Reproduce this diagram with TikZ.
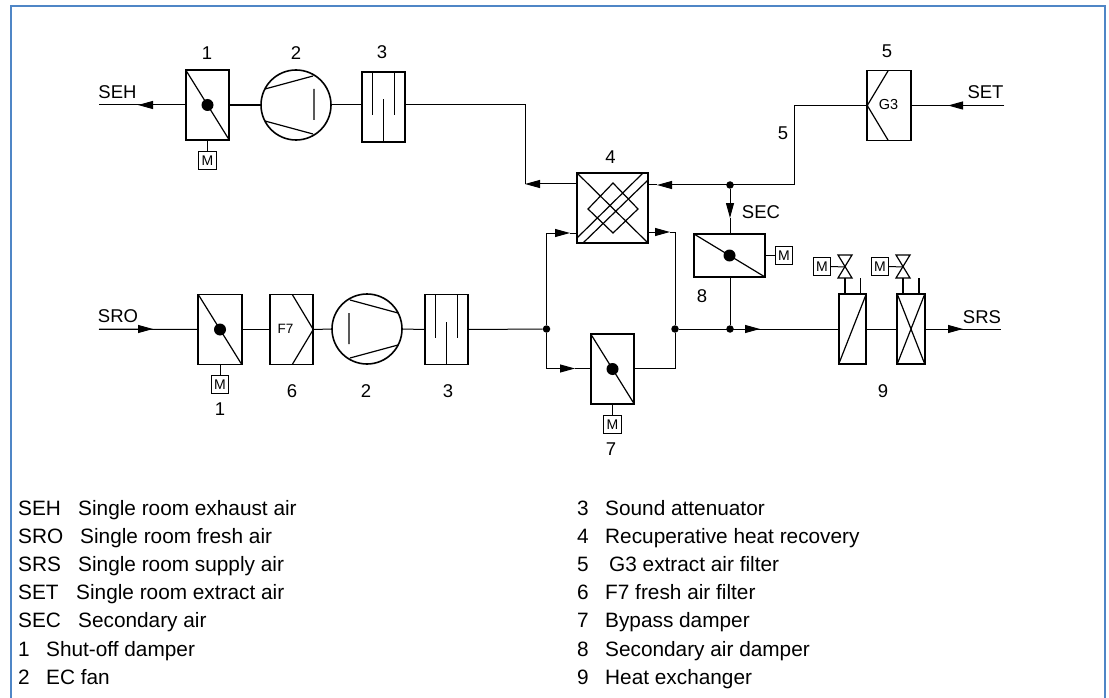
\documentclass[tikz,border=0pt]{standalone}
\usepackage{fontspec}
\setmainfont{Liberation Sans}
\usetikzlibrary{arrows.meta}
\definecolor{framblue}{RGB}{79,134,198}
\tikzset{
  >={Triangle[length=15pt,width=8pt]},
  box/.style={draw, line width=1.6pt, inner sep=0pt, outer sep=0pt},
  damperbox/.style={box, minimum width=43.5pt, minimum height=70pt},
  hxbox/.style={box, minimum width=71pt, minimum height=70pt},
  flatbox/.style={box, minimum width=71pt, minimum height=43pt},
  coilbox/.style={box, minimum width=27.5pt, minimum height=70pt},
  fanbody/.style={box, circle, minimum size=70pt},
  mbox/.style={draw, line width=.9pt, inner sep=0pt, outer sep=0pt, minimum size=17.5pt, font=\fontsize{14}{14}\selectfont},
  dot/.style={circle, fill, inner sep=0pt, minimum size=7.5pt},
  hub/.style={circle, fill, inner sep=0pt, minimum size=12pt},
  tag/.style={inner sep=0pt, font=\fontsize{18.5}{18}\selectfont},
  legend/.style={inner sep=0pt, anchor=base west, font=\fontsize{20.8}{21}\selectfont},
  pipe/.style={line width=1pt}
}
\newcommand{\fanblades}[2]{%
  \draw[line width=1.2pt, shift={(#1)}, xscale=#2] (-31,-16) -- (17,-29) (-31,16) -- (17,29) (18,-16) -- (18,15);}
\begin{document}
\begin{tikzpicture}[x=1pt, y=-1pt]
  \useasboundingbox (0,0) rectangle (1109,698);
  \draw[framblue, line width=2pt] (10.5,698) -- (10.5,6.5) -- (1104.5,6.5) -- (1104.5,698);

  % upper row
  \node (D1) [damperbox] at (207.5,105) {};
  \node (F1) [fanbody] at (296,105) {};
  \node (A1) [damperbox] at (383.5,107) {};
  \node (HX) [hxbox] at (612.5,208) {};
  \node (G3) [damperbox] at (889,105.5) {};
  \node (D8) [flatbox] at (729.5,255.5) {};
  % lower row
  \node (D2) [damperbox] at (220,329.5) {};
  \node (F7) [damperbox] at (291.5,329.5) {};
  \node (F2) [fanbody] at (367,329) {};
  \node (A2) [damperbox] at (446.5,329.5) {};
  \node (D7) [damperbox] at (612.5,369) {};
  \node (C1) [coilbox] at (852.5,329) {};
  \node (C2) [coilbox] at (911,329) {};

  % insides
  \foreach \d in {D1,D2,D7,D8} {
    \draw[line width=1.2pt] (\d.north west) -- (\d.south east);
    \node (hub\d) [hub] at (\d) {};
  }
  \foreach \a in {A1,A2} {
    \draw[line width=1.2pt] ([xshift=11pt]\a.north west) -- ++(0,43)
      ([xshift=-11pt]\a.north east) -- ++(0,43)
      (\a.south) -- ++(0,-43);
  }
  \fanblades{F1}{1}
  \fanblades{F2}{-1}
  \draw[line width=1.2pt] (G3.west) -- ([xshift=21pt]G3.north west) (G3.west) -- ([xshift=21pt]G3.south west);
  \draw[line width=1.2pt] (F7.east) -- ([xshift=-21pt]F7.north east) (F7.east) -- ([xshift=-21pt]F7.south east);
  \draw[line width=1.2pt] (HX.north west) -- (HX.south east)
    ([yshift=5pt]HX.south west) -- ([xshift=-5pt]HX.north east)
    ([xshift=6pt]HX.south west) -- ([yshift=-7pt]HX.north east)
    (588,209) -- (613,183) -- (638,209) -- (613,233) -- cycle;
  \draw[line width=1.2pt] (C1.south west) -- (C1.north east);
  \draw[line width=1.2pt] (C2.south west) -- (C2.north east) (C2.north west) -- (C2.south east);
  \node (G3txt) [inner sep=0pt, font=\fontsize{14.5}{14}\selectfont] at (888.5,104.5) {G3};
  \node (F7txt) [inner sep=0pt, font=\fontsize{13.5}{14}\selectfont] at (285.5,329) {F7};

  % motors
  \node (M1) [mbox, below of=D1, node distance=55.5pt] {M};
  \node (M2) [mbox, below of=D2, node distance=55pt] {M};
  \node (M7) [mbox, below of=D7, node distance=55.5pt] {M};
  \node (M8) [mbox, right of=D8, node distance=54.5pt] {M};
  \node (M9a) [mbox] at (822,266.5) {M};
  \node (M9b) [mbox] at (880,266.5) {M};
  \draw[pipe] (D1) ++(0,35) -- (M1);
  \draw[pipe] (D2) ++(0,35) -- (M2);
  \draw[pipe] (D7) ++(0,35) -- (M7);
  \draw[pipe] (D8.east) -- (M8);

  % valves
  \coordinate (V1) at (845,267);
  \coordinate (V2) at (903,267);
  \foreach \v/\m/\c in {V1/M9a/C1,V2/M9b/C2} {
    \draw[line width=1.2pt, shift={(\v)}] (-7,-12) -- (7,-12) -- (-7,11) -- (7,11) -- cycle;
    \draw[pipe] (\m.east) -- (\v);
    \draw[line width=1.2pt] ([yshift=-11pt]\v) -- (\v |- \c.north);
    \draw[line width=1.2pt] (\c.north) ++(8,0) -- ++(0,-16);
  }

  % junctions
  \node (J4) [dot] at (730,185) {};
  \node (J8) [dot] at (730,329) {};
  \node (JL) [dot] at (546.5,329) {};
  \node (JR) [dot] at (675,329) {};

  % exhaust side
  \coordinate (SEHend) at (99,105);
  \coordinate (SEHtip) at (138,105);
  \draw[pipe] (D1.west) -- (SEHend);
  \draw[->, pipe] (D1.west) -- (SEHtip);
  \draw[line width=2pt] (D1.east) -- (F1.west);
  \draw[pipe] (F1.east) -- (A1.west |- F1);
  \coordinate (T4) at (525,184);
  \draw[pipe] (A1.east |- F1) -| (T4);
  \draw[->, pipe] (HX.west |- T4) -- (T4);
  \coordinate (T5) at (657,185);
  \coordinate (B5) at (794,185);
  \draw[->, pipe] (B5) -- (T5);
  \draw[pipe] (T5) -- (HX.east |- T5);
  \draw[pipe] (B5) |- (G3.west);
  \coordinate (SETend) at (1004,105.5);
  \coordinate (SETtip) at (948,105.5);
  \draw[pipe] (SETend) -- (G3.east);
  \draw[->, pipe] (SETend) -- (SETtip);
  \coordinate (TS) at (730,218);
  \draw[->, pipe] (J4) -- (TS);
  \draw[pipe] (TS) -- (D8.north -| TS);
  \draw[pipe] (D8.south -| J8) -- (J8);

  % supply side
  \coordinate (SROend) at (99,329);
  \coordinate (SROtip) at (153,329);
  \draw[pipe] (SROend) -- (D2.west);
  \draw[->, pipe] (SROend) -- (SROtip);
  \draw[pipe] (D2.east) -- (F7.west);
  \draw[pipe] (F7.east) -- (F2.west);
  \draw[pipe] (F2.east) -- (A2.west);
  \draw[pipe] (A2.east) -- (JL);
  \coordinate (U4) at (570,233);
  \draw[->, pipe] (JL) |- (U4);
  \draw[pipe] (U4) -- (HX.west |- U4);
  \coordinate (U7) at (575,368.5);
  \draw[->, pipe] (JL) |- (U7);
  \draw[pipe] (U7) -- (D7.west |- U7);
  \coordinate (R4) at (670,232);
  \draw[->, pipe] (HX.east |- R4) -- (R4);
  \draw[pipe] (R4) -| (JR);
  \draw[pipe] (D7.east |- U7) -| (JR);
  \coordinate (U9) at (760,329);
  \draw[pipe] (JR) -- (C1.west);
  \draw[->, pipe] (J8) -- (U9);
  \draw[pipe] (C1.east) -- (C2.west);
  \coordinate (SRSend) at (1001,329);
  \coordinate (SRStip) at (963,329);
  \draw[pipe] (C2.east) -- (SRSend);
  \draw[->, pipe] (C2.east) -- (SRStip);

  % labels
  \node (tSEH) [tag] at (117.5,92) {SEH};
  \node (tSRO) [tag] at (118,316.5) {SRO};
  \node (tSET) [tag] at (985.5,92) {SET};
  \node (tSRS) [tag] at (982,317) {SRS};
  \node (tSEC) [tag] at (761,212) {SEC};
  \node (n1) [tag] at (207,53) {1};
  \node (n2) [tag] at (296,53) {2};
  \node (n3) [tag] at (382,52) {3};
  \node (n4) [tag] at (610.5,157) {4};
  \node (n5a) [tag] at (783,133) {5};
  \node (n5b) [tag] at (887,51) {5};
  \node (n8) [tag] at (702,296) {8};
  \node (n1b) [tag] at (220,409) {1};
  \node (n6) [tag] at (292,391) {6};
  \node (n2b) [tag] at (366,391) {2};
  \node (n3b) [tag] at (448,391) {3};
  \node (n7) [tag] at (611,449) {7};
  \node (n9) [tag] at (883,391) {9};

  % legend
  \foreach \row/\ka/\xa/\ta in {0/SEH/78/Single room exhaust air, 1/SRO/80/Single room fresh air,
      2/SRS/78/Single room supply air, 3/SET/76/Single room extract air, 4/SEC/78/Secondary air,
      5/1/46/Shut-off damper, 6/2/46/EC fan} {
    \node (lk\row) [legend] at (18,515+28.2*\row) {\ka};
    \node (lt\row) [legend] at (\xa,515+28.2*\row) {\ta};
  }
  \foreach \row/\ka/\xa/\ta in {0/3/605/Sound attenuator, 1/4/605/Recuperative heat recovery,
      2/5/609/G3 extract air filter, 3/6/605/F7 fresh air filter, 4/7/605/Bypass damper,
      5/8/605/Secondary air damper, 6/9/605/Heat exchanger} {
    \node (rk\row) [legend] at (577,515+28.2*\row) {\ka};
    \node (rt\row) [legend] at (\xa,515+28.2*\row) {\ta};
  }
\end{tikzpicture}
\end{document}
